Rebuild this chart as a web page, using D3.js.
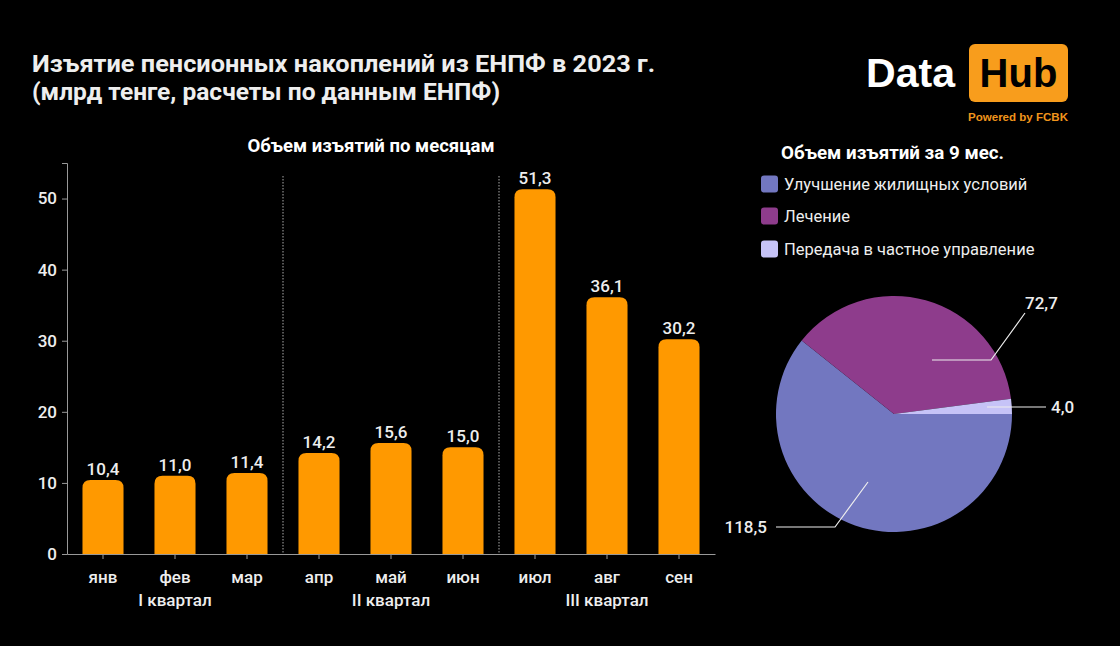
<!DOCTYPE html>
<html><head><meta charset="utf-8">
<script src="https://cdn.jsdelivr.net/npm/d3@7"></script>
<style>html,body{margin:0;padding:0;background:#000;}svg{display:block;}</style>
</head><body>
<script>
const months = ["янв","фев","мар","апр","май","июн","июл","авг","сен"];
const monthValues = [10.4, 11.0, 11.4, 14.2, 15.6, 15.0, 51.3, 36.1, 30.2];
const quarters = ["I квартал","II квартал","III квартал"];
const yTicks = [0, 10, 20, 30, 40, 50];
const pieCategories = ["Улучшение жилищных условий","Лечение","Передача в частное управление"];
const pieValues = [118.5, 72.7, 4.0];
const pieColors = ["#7277c0","#8e3c8c","#c6c3f7"];

const W = 1120, H = 646;
const fmt = v => v.toFixed(1).replace(".", ",");
const svg = d3.select("body").append("svg").attr("width", W).attr("height", H)
  .style("font-family", "Roboto, 'Noto Sans', sans-serif");
svg.append("rect").attr("width", W).attr("height", H).attr("fill", "#000");

// Title
svg.append("text").attr("x", 32).attr("y", 72).attr("fill", "#eee").attr("font-size", 23)
  .attr("font-weight", 700).attr("textLength", 623).attr("lengthAdjust", "spacingAndGlyphs")
  .text("Изъятие пенсионных накоплений из ЕНПФ в 2023 г.");
svg.append("text").attr("x", 32).attr("y", 100).attr("fill", "#eee").attr("font-size", 23)
  .attr("font-weight", 700).attr("textLength", 468).attr("lengthAdjust", "spacingAndGlyphs")
  .text("(млрд тенге, расчеты по данным ЕНПФ)");

// Logo
svg.append("text").attr("x", 866).attr("y", 87).attr("fill", "#fff").attr("font-size", 40)
  .attr("font-weight", 700).attr("font-family", "Arial, 'Liberation Sans', sans-serif")
  .attr("textLength", 89).attr("lengthAdjust", "spacingAndGlyphs").text("Data");
svg.append("rect").attr("x", 969).attr("y", 44).attr("width", 99).attr("height", 58).attr("rx", 6)
  .attr("fill", "#f89d1c");
svg.append("text").attr("x", 1018.5).attr("y", 87).attr("text-anchor", "middle").attr("fill", "#000")
  .attr("font-size", 40).attr("font-weight", 700).attr("font-family", "Arial, 'Liberation Sans', sans-serif").text("Hub");
svg.append("text").attr("x", 1068).attr("y", 121).attr("text-anchor", "end").attr("fill", "#f0951c")
  .attr("font-size", 11.5).attr("font-weight", 700).attr("font-family", "Arial, 'Liberation Sans', sans-serif")
  .attr("textLength", 100).attr("lengthAdjust", "spacingAndGlyphs")
  .text("Powered by FCBK");

// Bar chart
const x = d3.scaleBand().domain(months).range([67, 715]).paddingInner(0.43).paddingOuter(0.215);
const y = d3.scaleLinear().domain([0, 55]).range([554, 163]);

svg.append("text").attr("x", 371).attr("y", 152).attr("text-anchor", "middle").attr("fill", "#fff")
  .attr("font-size", 18.5).attr("font-weight", 700).attr("textLength", 247).attr("lengthAdjust", "spacingAndGlyphs")
  .text("Объем изъятий по месяцам");

const yAxis = svg.append("g").attr("transform", "translate(67,0)")
  .call(d3.axisLeft(y).tickValues(yTicks).tickSize(5).tickPadding(5).tickFormat(d => d));
yAxis.select(".domain").attr("stroke", "#999");
yAxis.selectAll(".tick line").attr("stroke", "#999");
yAxis.selectAll(".tick text").attr("fill", "#eee").attr("font-size", 17).attr("font-weight", 500)
  .attr("font-family", "Roboto, sans-serif");

const xAxis = svg.append("g").attr("transform", "translate(0,554)")
  .call(d3.axisBottom(x).tickSize(5).tickSizeOuter(0).tickPadding(12));
xAxis.select(".domain").attr("stroke", "#999");
xAxis.selectAll(".tick line").attr("stroke", "#999");
xAxis.selectAll(".tick text").attr("fill", "#eee").attr("font-size", 17).attr("font-weight", 500)
  .attr("font-family", "Roboto, sans-serif");

// quarter dividers
const step = x.step();
[3, 6].forEach(i => {
  const xv = x(months[i]) - (step - x.bandwidth()) / 2;
  svg.append("line").attr("x1", xv).attr("x2", xv).attr("y1", 176).attr("y2", 554)
    .attr("stroke", "#aaa").attr("stroke-width", 1).attr("stroke-dasharray", "1.5,1.5");
});
// quarter labels
quarters.forEach((q, i) => {
  const cx = x(months[i * 3 + 1]) + x.bandwidth() / 2;
  svg.append("text").attr("x", cx).attr("y", 606).attr("text-anchor", "middle").attr("fill", "#eee")
    .attr("font-size", 17).attr("font-weight", 500).text(q);
});

const r = 8;
const barPath = (xx, yy, w, h) => {
  const rr = Math.min(r, h);
  return `M${xx},${yy + h}V${yy + rr}Q${xx},${yy} ${xx + rr},${yy}H${xx + w - rr}Q${xx + w},${yy} ${xx + w},${yy + rr}V${yy + h}Z`;
};
svg.append("g").selectAll("path").data(months).join("path")
  .attr("d", (m, i) => barPath(x(m), y(monthValues[i]), x.bandwidth(), y(0) - y(monthValues[i])))
  .attr("fill", "#ff9900");
svg.append("g").selectAll("text").data(months).join("text")
  .attr("x", m => x(m) + x.bandwidth() / 2)
  .attr("y", (m, i) => y(monthValues[i]) - 5)
  .attr("text-anchor", "middle").attr("fill", "#eee").attr("font-size", 17).attr("font-weight", 500)
  .text((m, i) => fmt(monthValues[i]));

// Legend
svg.append("text").attr("x", 781).attr("y", 159).attr("fill", "#fff").attr("font-size", 18.5)
  .attr("font-weight", 700).attr("textLength", 223).attr("lengthAdjust", "spacingAndGlyphs")
  .text("Объем изъятий за 9 мес.");
const legendY = [184, 216, 249];
pieCategories.forEach((c, i) => {
  const ly = legendY[i];
  svg.append("rect").attr("x", 761).attr("y", ly - 8.5).attr("width", 17).attr("height", 17).attr("rx", 3)
    .attr("fill", pieColors[i]);
  svg.append("text").attr("x", 784).attr("y", ly + 6).attr("fill", "#eee").attr("font-size", 16.5).text(c);
});

// Pie
const cx = 894, cy = 414, R = 118;
const pie = d3.pie().sort(null).startAngle(Math.PI / 2).endAngle(Math.PI / 2 + 2 * Math.PI)(pieValues);
const arc = d3.arc().innerRadius(0).outerRadius(R);
const pg = svg.append("g").attr("transform", `translate(${cx},${cy})`);
pg.selectAll("path").data(pie).join("path").attr("d", arc).attr("fill", (d, i) => pieColors[i]);

// Leader lines & labels (paths in pie-centre coordinates)
const leaders = [
  { pts: [[-26, 68], [-59, 113], [-118, 113]], tx: -127, ty: 119, anchor: "end" },
  { pts: [[38, -54], [97, -54], [131, -101]], tx: 131, ty: -105, anchor: "start" },
  { pts: [[93, -7], [152, -7]], tx: 157, ty: -1, anchor: "start" }
];
pie.forEach((d, i) => {
  const L = leaders[i];
  pg.append("path").attr("d", d3.line()(L.pts)).attr("fill", "none").attr("stroke", "#eee").attr("stroke-width", 1.2);
  pg.append("text").attr("x", L.tx).attr("y", L.ty).attr("text-anchor", L.anchor)
    .attr("fill", "#eee").attr("font-size", 17).attr("font-weight", 500).text(fmt(pieValues[i]));
});
</script>
</body></html>
